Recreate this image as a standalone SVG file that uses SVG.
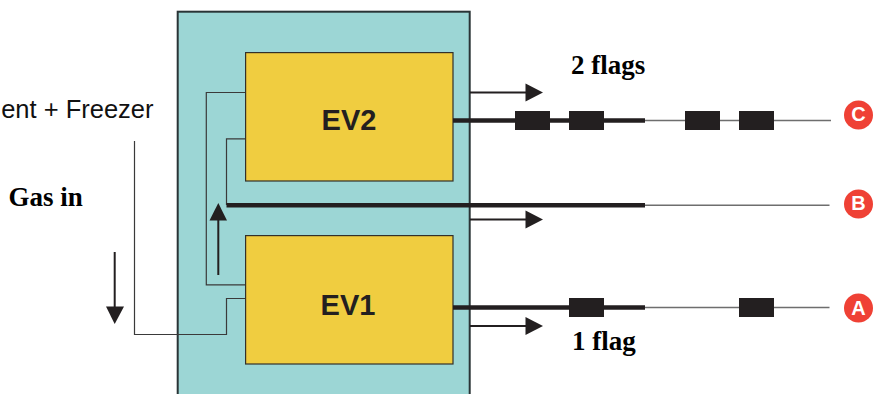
<svg xmlns="http://www.w3.org/2000/svg" width="873" height="394" viewBox="0 0 873 394">
<defs>
<style>
.thin{fill:none;stroke:#3a3a3a;stroke-width:1.2}
.thick{fill:none;stroke:#231f20;stroke-width:4.5}
.wire{fill:none;stroke:#6e6e6e;stroke-width:1.5}
.flow{fill:none;stroke:#231f20;stroke-width:2}
.head{fill:#231f20}
.flag{fill:#231f20}
.ev{fill:#f0cd40;stroke:#33302a;stroke-width:1.2}
.evt{font:bold 29px "Liberation Sans",Arial,sans-serif;fill:#231f20;text-anchor:middle}
.serif{font:bold 27px "Liberation Serif","Times New Roman",serif;fill:#000}
.dot{fill:#ef4135}
.dott{font:bold 20px "Liberation Sans",Arial,sans-serif;fill:#fff;text-anchor:middle}
</style>
</defs>
<rect width="873" height="394" fill="#fff"/>
<g id="panel"><rect x="177.7" y="11.7" width="292" height="392" fill="#9cd6d5" stroke="#2a3436" stroke-width="2"/></g>
<g id="ev2"><rect class="ev" x="245.6" y="52.6" width="207.4" height="128.4"/><text class="evt" x="349" y="130">EV2</text></g>
<g id="ev1"><rect class="ev" x="245.6" y="235.6" width="207.4" height="128.4"/><text class="evt" x="348" y="315">EV1</text></g>
<g id="connectors">
<path class="thin" d="M245 92.500H206.300V284.800H245"/>
<path class="thin" d="M245 138.800H226.500V205"/>
<path class="thin" d="M245 298.500H226.500V334.500H134.500V141"/>
<path class="thick" d="M226.500 205.200H645"/>
<path class="thick" d="M453 120.500H645"/>
<path class="thick" d="M453 307.500H645"/>
<path class="wire" d="M645 120.500H831"/>
<path class="wire" d="M645 205.200H829.500"/>
<path class="wire" d="M645 307.500H829.500"/>
<path class="flow" d="M470 92.500H527"/><path class="head" d="M525.500 83.500L543 92.500L525.500 101.500Z"/>
<path class="flow" d="M470 219.500H527"/><path class="head" d="M525.500 210.500L543 219.500L525.500 228.500Z"/>
<path class="flow" d="M470 326H527"/><path class="head" d="M525.500 317L543 326L525.500 335Z"/>
<path class="flow" d="M218.300 275V218"/><path class="head" d="M209.500 220.500L218.300 203L227 220.500Z"/>
<path class="flow" d="M114.700 252V308"/><path class="head" d="M106 306.500H124L114.700 324Z"/>
</g>
<g id="flags">
<rect class="flag" x="515" y="111" width="35" height="19"/>
<rect class="flag" x="569" y="111" width="35" height="19"/>
<rect class="flag" x="685" y="111" width="35" height="19"/>
<rect class="flag" x="739" y="111" width="35" height="19"/>
<rect class="flag" x="569" y="298" width="35" height="19"/>
<rect class="flag" x="739" y="298" width="35" height="19"/>
</g>
<g id="node-c"><circle class="dot" cx="858.500" cy="115" r="14.500"/><text class="dott" x="858.500" y="121">C</text></g>
<g id="node-b"><circle class="dot" cx="858.500" cy="204" r="14.500"/><text class="dott" x="858.500" y="210">B</text></g>
<g id="node-a"><circle class="dot" cx="858.500" cy="308" r="14.500"/><text class="dott" x="858.500" y="314.500">A</text></g>
<g id="labels">
<text x="153.500" y="118" font-family="Liberation Sans, Arial, sans-serif" font-size="25.500" fill="#111" text-anchor="end">ent + Freezer</text>
<text class="serif" x="8.500" y="206">Gas in</text>
<text class="serif" x="571" y="74">2 flags</text>
<text class="serif" x="572" y="350">1 flag</text>
</g>
</svg>
